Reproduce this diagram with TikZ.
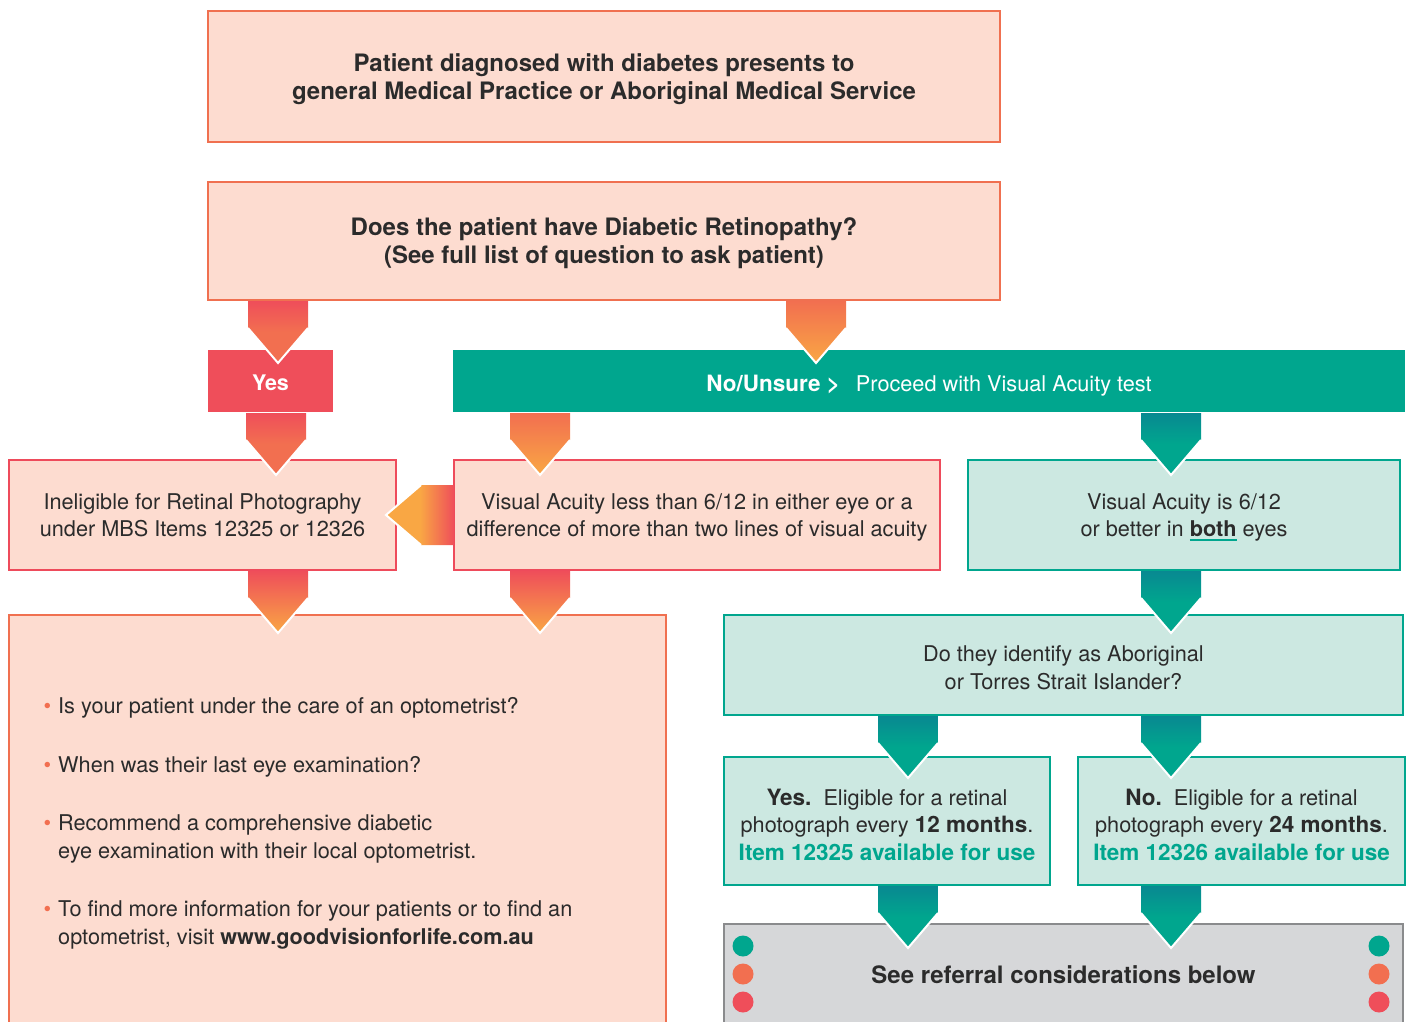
\documentclass[tikz,border=0pt]{standalone}
\usepackage{fontspec}
\setmainfont{TeX Gyre Heros}
\usepackage{tikz}
\usetikzlibrary{calc}

\definecolor{peach}{HTML}{FDDCD0}
\definecolor{edgeorange}{HTML}{F07050}
\definecolor{edgered}{HTML}{EE4B5B}
\definecolor{flowred}{HTML}{EF4E5A}
\definecolor{floworange}{HTML}{F26F50}
\definecolor{flowyellow}{HTML}{F9A744}
\definecolor{flowteal}{HTML}{00A68E}
\definecolor{darkteal}{HTML}{0B7F92}
\definecolor{paleteal}{HTML}{CCE8E1}
\definecolor{refgrey}{HTML}{D6D7D9}
\definecolor{refedge}{HTML}{8A8B8D}
\definecolor{txt}{HTML}{2B2B2B}

\newcommand{\bigbf}{\fontsize{24}{28}\selectfont\bfseries}
\newcommand{\midbf}{\fontsize{22.5}{27.5}\selectfont\bfseries}
\newcommand{\tealul}[1]{\setbox0\hbox{#1}\rlap{\textcolor{flowteal}{\rule[-4.5pt]{\wd0}{2pt}}}\box0\relax}
\newcommand{\bul}{\llap{\textcolor{floworange}{\textbullet}\hspace{7pt}}}

\newcommand{\chevdown}[4]{%
  \coordinate (ct0) at (#1,0 |- #2.south);
  \coordinate (ct) at ([yshift=-1pt]ct0);
  \coordinate (cb) at (#1,0 |- #3.north);
  \coordinate (cs) at ($(ct)!27pt!(cb)$);
  \coordinate (ce) at ($(ct)!62pt!(cb)$);
  \path[#4] ([xshift=-30pt]ct) -- ([xshift=-30pt]cs) -- (ce) -- ([xshift=30pt]cs) -- ([xshift=30pt]ct) -- cycle;
  \draw[white, line width=2pt] ([xshift=-30pt]cs) -- (ce) -- ([xshift=30pt]cs);
}

\tikzset{
  every node/.style={font=\fontsize{21.7}{27.5}\selectfont, text=txt},
  peachbox/.style={draw=edgeorange, fill=peach, line width=2.4pt, inner sep=0pt, outer sep=0pt, align=center, text depth=-3pt},
  redbox/.style={peachbox, draw=edgered},
  tealbox/.style={draw=flowteal, fill=paleteal, line width=2.4pt, inner sep=0pt, outer sep=0pt, align=center, text depth=-3pt},
  greybox/.style={draw=refedge, fill=refgrey, line width=2.4pt, inner sep=0pt, outer sep=0pt},
  tab/.style={fill=#1, text=white, inner sep=0pt, outer sep=0pt, align=center},
  redgrad/.style={top color=flowred, bottom color=floworange, middle color=floworange},
  orangegrad/.style={top color=floworange, bottom color=flowyellow},
  redorange/.style={top color=flowred, bottom color=flowyellow},
  tealgrad/.style={top color=darkteal!75!flowteal, bottom color=flowteal, middle color=flowteal}
}

\begin{document}
\begin{tikzpicture}[x=1pt, y=-1pt]
\useasboundingbox (0,0) rectangle (1410,1021);
\clip (0,0) rectangle (1410,1021);

\node[peachbox, minimum width=792pt, minimum height=131pt, font=\bigbf] (diag) at (604,76.5)
  {Patient diagnosed with diabetes presents to\\general Medical Practice or Aboriginal Medical Service};
\node[peachbox, minimum width=792pt, minimum height=118pt, font=\bigbf] (retq) at (604,241)
  {Does the patient have Diabetic Retinopathy?\\(See full list of question to ask patient)};

\node[tab=flowred, minimum width=125pt, minimum height=62pt, font=\fontsize{21.5}{27}\selectfont\bfseries] (yes) at (270.5,381) {\raisebox{-3pt}[12pt][0pt]{Yes}};
\node[tab=flowteal, minimum width=952pt, minimum height=62pt] (nobar) at (929,381)
  {\raisebox{-4pt}[12pt][0pt]{{\midbf No/Unsure >}\hspace{16pt}Proceed with Visual Acuity test}};

\node[redbox, minimum width=387pt, minimum height=110pt] (inelig) at (202.5,515)
  {Ineligible for Retinal Photography\\under MBS Items 12325 or 12326};
\node[redbox, minimum width=486pt, minimum height=110pt] (valess) at (697,515)
  {Visual Acuity less than 6/12 in either eye or a\\difference of more than two lines of visual acuity};
\node[tealbox, minimum width=432pt, minimum height=110pt] (vaok) at (1184,515)
  {Visual Acuity is 6/12\\or better in \tealul{\bfseries both} eyes};

\node[peachbox, minimum width=657pt, minimum height=425pt] (bigbox) at (337.5,827.5) {};
\node[anchor=north west, align=left, inner sep=0pt] (qlist) at (58,697.5)
  {\bul Is your patient under the care of an optometrist?\\[31pt]
   \bul When was their last eye examination?\\[31pt]
   \bul Recommend a comprehensive diabetic\\eye examination with their local optometrist.\\[31pt]
   \bul To find more information for your patients or to find an\\optometrist, visit {\bfseries www.goodvisionforlife.com.au}};

\node[tealbox, minimum width=679pt, minimum height=100pt, text height=48pt, text depth=0pt] (abor) at (1063.5,665)
  {Do they identify as Aboriginal\\or Torres Strait Islander?};
\node[tealbox, minimum width=326pt, minimum height=128pt, text height=78pt, text depth=0pt] (ayes) at (887,821)
  {{\midbf Yes.}\ \ Eligible for a retinal\\photograph every {\midbf 12 months}.\\{\color{flowteal}\midbf Item 12325 available for use}};
\node[tealbox, minimum width=327pt, minimum height=128pt, text height=78pt, text depth=0pt] (ano) at (1241.5,821)
  {{\midbf No.}\ \ Eligible for a retinal\\photograph every {\midbf 24 months}.\\{\color{flowteal}\midbf Item 12326 available for use}};

\node[greybox, minimum width=679pt, minimum height=116pt] (referral) at (1063.5,982) {};
\node[font=\bigbf] (reftext) at (1063.5,975) {See referral considerations below};
\foreach \y/\c in {946/flowteal, 974/floworange, 1002/flowred}{
  \fill[\c] (743,\y) circle (10.5pt);
  \fill[\c] (1379,\y) circle (10.5pt);
}

\chevdown{278}{retq}{yes}{redgrad}
\chevdown{816}{retq}{nobar}{orangegrad}
\chevdown{276}{yes}{inelig}{redgrad}
\chevdown{540}{nobar}{valess}{orangegrad}
\chevdown{1171}{nobar}{vaok}{tealgrad}
\chevdown{278}{inelig}{bigbox}{redorange}
\chevdown{540}{valess}{bigbox}{redorange}
\chevdown{1171}{vaok}{abor}{tealgrad}
\chevdown{908}{abor}{ayes}{tealgrad}
\chevdown{1171}{abor}{ano}{tealgrad}
\chevdown{908}{ayes}{referral}{tealgrad}
\chevdown{1171}{ano}{referral}{tealgrad}

\coordinate (lt) at (valess.west);
\coordinate (lb) at (inelig.east);
\coordinate (ls) at ($(lt)!33pt!(lb)$);
\coordinate (le) at ($(lt)!68pt!(lb)$);
\path[left color=flowyellow, right color=flowred, middle color=flowyellow]
  ([yshift=30pt]lt) -- ([yshift=30pt]ls) -- (le) -- ([yshift=-30pt]ls) -- ([yshift=-30pt]lt) -- cycle;
\draw[white, line width=2pt] ([yshift=30pt]ls) -- (le) -- ([yshift=-30pt]ls);
\end{tikzpicture}
\end{document}
